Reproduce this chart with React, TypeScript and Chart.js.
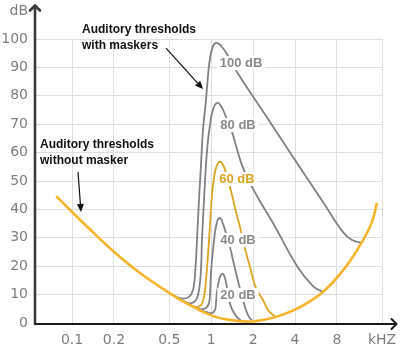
import React, { useEffect, useRef } from "react";
import { Chart, registerables } from "chart.js";

Chart.register(...registerables);

// ---- axes ----
const X_MIN = 0.0542;
const X_MAX = 16.87;
const X_TICKS = [0.1, 0.2, 0.5, 1, 2, 4, 8, X_MAX];
const X_TICK_LABELS = ["0.1", "0.2", "0.5", "1", "2", "4", "8", "kHZ"];
const Y_MIN = 0;
const Y_MAX = 100;
const Y_STEP = 10;

// ---- threshold in quiet ----
const QUIET_KHZ = [0.077, 0.1, 0.135, 0.197, 0.308, 0.514, 0.704, 1.013, 1.364, 1.838, 2.434, 3.12, 4.343, 6.354, 9.143, 12.11, 14.3, 15.5];
const QUIET_DB = [44.7, 39.1, 32.9, 25.4, 17.6, 10.2, 6.3, 2.6, 1.1, 0.5, 1.2, 2.6, 5.6, 10.9, 19.4, 28.5, 35.6, 42.3];

// ---- masked thresholds ----
const M100_KHZ = [0.514, 0.6165, 0.6925, 0.74, 0.7647, 0.7904, 0.817, 0.8444, 0.8729, 0.9173, 0.9482, 0.98, 1.03, 1.0823, 1.1374, 1.1952, 1.2983, 1.41, 1.532, 1.9, 2.644, 4.132, 6.354, 8.846, 10.26, 12.11];
const M100_DB = [10.2, 8.6, 9.2, 11.6, 16.9, 29.2, 43.3, 55.6, 68.0, 78.5, 87.0, 93.3, 97.5, 98.6, 98.2, 97.2, 94.7, 91.5, 88.4, 81.3, 70.8, 56.3, 42.6, 32.0, 29.2, 28.2];

const M80_KHZ = [0.6165, 0.704, 0.7775, 0.817, 0.8444, 0.8585, 0.8875, 0.9173, 0.9482, 0.98, 1.013, 1.0646, 1.1188, 1.1757, 1.2355, 1.32, 1.41, 1.692, 2.133, 2.78, 4.132, 5.385, 6.354];
const M80_DB = [7.95, 6.9, 8.1, 11.6, 18.7, 29.2, 43.3, 55.6, 64.4, 69.7, 73.9, 76.8, 77.5, 76.4, 74.3, 70.8, 67.3, 54.6, 44.7, 35.2, 20.1, 13.0, 10.9];

const M60_KHZ = [0.659, 0.7775, 0.8444, 0.8875, 0.9173, 0.9482, 0.98, 1.013, 1.047, 1.0823, 1.1374, 1.1952, 1.2558, 1.32, 1.41, 1.507, 1.61, 1.72, 1.9, 2.098, 2.355, 2.559, 2.78, 2.872];
const M60_DB = [7.1, 5.6, 6.3, 9.2, 15.1, 23.9, 34.5, 45.1, 51.1, 54.6, 56.7, 56.3, 53.9, 50.4, 45.1, 39.1, 33.8, 27.5, 19.7, 12.3, 8.1, 4.6, 2.8, 2.4];

const M40_KHZ = [0.7276, 0.8307, 0.9173, 0.964, 0.98, 0.9964, 1.03, 1.0646, 1.1003, 1.1374, 1.1757, 1.2152, 1.277, 1.364, 1.434, 1.532, 1.61, 1.692, 1.778, 1.869, 1.964];
const M40_DB = [6.0, 4.9, 5.3, 7.0, 9.9, 17.6, 25.7, 32.0, 35.6, 37.0, 36.6, 34.9, 31.7, 26.8, 22.2, 16.2, 12.0, 8.1, 4.6, 2.1, 1.0];

const M20_KHZ = [0.817, 0.9173, 1.013, 1.0646, 1.0823, 1.1003, 1.1374, 1.1757, 1.2152, 1.2558, 1.2983, 1.342, 1.41, 1.507, 1.61, 1.692];
const M20_DB = [4.4, 3.9, 3.5, 4.6, 7.0, 10.9, 15.1, 16.9, 17.3, 15.8, 12.3, 8.1, 4.9, 2.5, 1.1, 0.6];

// ---- curve labels ----
const CURVE_LABELS = ["100 dB", "80 dB", "60 dB", "40 dB", "20 dB"];
const CURVE_LABEL_KHZ = [1.637, 1.558, 1.532, 1.558, 1.558];
const CURVE_LABEL_DB = [91.5, 69.7, 50.7, 29.2, 9.9];

// ---- annotations ----
const NOTE_TEXT = [
  ["Auditory thresholds", "with maskers"],
  ["Auditory thresholds", "without masker"],
];
const NOTE_KHZ = [0.118, 0.0589];
const NOTE_DB = [103.2, 62.7];
const ARROW_FROM_KHZ = [0.4735, 0.1104];
const ARROW_FROM_DB = [96.8, 53.2];
const ARROW_TO_KHZ = [0.873, 0.116];
const ARROW_TO_DB = [82.4, 39.1];

const GREY = "#808087";
const GOLD = "#F4B52C";
const GOLD_DARK = "#DCA521";
const LABEL_COLORS = ["#8a8a8a", "#8a8a8a", "#D9A321", "#8a8a8a", "#8a8a8a"];

const pts = (xs: number[], ys: number[]) => xs.map((x, i) => ({ x, y: ys[i] }));

const overlay = {
  id: "overlay",
  afterDatasetsDraw(chart: any) {
    const { ctx, scales } = chart;
    const xs = scales.x;
    const ys = scales.y;
    ctx.save();
    ctx.font = 'bold 13px "Liberation Sans"';
    ctx.textAlign = "center";
    ctx.textBaseline = "middle";
    CURVE_LABELS.forEach((t, i) => {
      const px = xs.getPixelForValue(CURVE_LABEL_KHZ[i]);
      const py = ys.getPixelForValue(CURVE_LABEL_DB[i]);
      const w = ctx.measureText(t).width;
      ctx.fillStyle = "#ffffff";
      ctx.fillRect(px - w / 2 - 3, py - 7, w + 6, 14);
      ctx.fillStyle = LABEL_COLORS[i];
      ctx.fillText(t, px, py + 0.5);
    });
    ctx.font = 'bold 12px "Liberation Sans"';
    ctx.textAlign = "left";
    ctx.fillStyle = "#111111";
    NOTE_TEXT.forEach((lines, i) => {
      const px = xs.getPixelForValue(NOTE_KHZ[i]);
      const py = ys.getPixelForValue(NOTE_DB[i]);
      lines.forEach((l, j) => ctx.fillText(l, px, py + j * 15.5));
    });
    ctx.strokeStyle = "#111111";
    ctx.lineWidth = 1.2;
    ARROW_FROM_KHZ.forEach((_, i) => {
      const x1 = xs.getPixelForValue(ARROW_FROM_KHZ[i]);
      const y1 = ys.getPixelForValue(ARROW_FROM_DB[i]);
      const x2 = xs.getPixelForValue(ARROW_TO_KHZ[i]);
      const y2 = ys.getPixelForValue(ARROW_TO_DB[i]);
      const a = Math.atan2(y2 - y1, x2 - x1);
      const hl = 8;
      const bx = x2 - hl * Math.cos(a);
      const by = y2 - hl * Math.sin(a);
      ctx.beginPath();
      ctx.moveTo(x1, y1);
      ctx.lineTo(bx, by);
      ctx.stroke();
      ctx.beginPath();
      ctx.moveTo(x2, y2);
      ctx.lineTo(bx + 3.5 * Math.sin(a), by - 3.5 * Math.cos(a));
      ctx.lineTo(bx - 3.5 * Math.sin(a), by + 3.5 * Math.cos(a));
      ctx.closePath();
      ctx.fillStyle = "#111111";
      ctx.fill();
    });
    ctx.restore();
  },
  afterDraw(chart: any) {
    const { ctx, chartArea } = chart;
    const { left, bottom } = chartArea;
    ctx.save();
    ctx.lineCap = "round";
    ctx.lineJoin = "round";
    ctx.strokeStyle = "#3a3a3a";
    ctx.lineWidth = 2.6;
    ctx.beginPath();
    ctx.moveTo(left, bottom + 1);
    ctx.lineTo(left, 6);
    ctx.stroke();
    ctx.beginPath();
    ctx.moveTo(left - 5, 10.5);
    ctx.lineTo(left, 5.5);
    ctx.lineTo(left + 5, 10.5);
    ctx.stroke();
    ctx.strokeStyle = "#1a1a1a";
    ctx.lineWidth = 2;
    ctx.beginPath();
    ctx.moveTo(left, bottom + 1);
    ctx.lineTo(396, bottom + 1);
    ctx.stroke();
    ctx.beginPath();
    ctx.moveTo(391.5, bottom - 4);
    ctx.lineTo(396.5, bottom + 1);
    ctx.lineTo(391.5, bottom + 6);
    ctx.stroke();
    ctx.font = '14px "DejaVu Sans"';
    ctx.fillStyle = "#7d7d7d";
    ctx.textAlign = "right";
    ctx.textBaseline = "middle";
    ctx.fillText("dB", left - 7, 11);
    ctx.restore();
  },
};

export default function App() {
  const ref = useRef<HTMLCanvasElement | null>(null);
  useEffect(() => {
    if (!ref.current) return;
    const line = (data: any, color: string, width: number) => ({
      data,
      borderColor: color,
      backgroundColor: color,
      borderWidth: width,
      pointRadius: 0,
      showLine: true,
      fill: false,
      tension: 0.4,
    });
    const chart = new Chart(ref.current, {
      type: "scatter",
      data: {
        datasets: [
          line(pts(QUIET_KHZ, QUIET_DB), GOLD, 2.6),
          line(pts(M60_KHZ, M60_DB), GOLD_DARK, 1.8),
          line(pts(M100_KHZ, M100_DB), GREY, 1.8),
          line(pts(M80_KHZ, M80_DB), GREY, 1.8),
          line(pts(M40_KHZ, M40_DB), GREY, 1.8),
          line(pts(M20_KHZ, M20_DB), GREY, 1.8),
        ],
      },
      options: {
        animation: false,
        responsive: false,
        devicePixelRatio: 1,
        layout: { padding: { top: 39, right: 18, left: 0, bottom: 0 } },
        plugins: { legend: { display: false }, tooltip: { enabled: false } },
        scales: {
          x: {
            type: "logarithmic",
            min: X_MIN,
            max: X_MAX,
            afterBuildTicks: (s: any) => {
              s.ticks = X_TICKS.map((v) => ({ value: v }));
            },
            afterFit: (s: any) => {
              s.height = 29;
              s.paddingLeft = 0;
              s.paddingRight = 0;
            },
            grid: { color: "#dedede", lineWidth: 1, drawTicks: false },
            border: { display: false },
            ticks: {
              autoSkip: false,
              maxRotation: 0,
              padding: 9,
              color: "#7d7d7d",
              font: { family: "DejaVu Sans", size: 14 },
              callback: (_v: any, i: number) => X_TICK_LABELS[i],
            },
          },
          y: {
            type: "linear",
            min: Y_MIN,
            max: Y_MAX,
            afterFit: (s: any) => {
              s.width = 35;
              s.paddingTop = 0;
              s.paddingBottom = 0;
            },
            grid: { color: "#dedede", lineWidth: 1, drawTicks: false },
            border: { display: false },
            ticks: {
              stepSize: Y_STEP,
              padding: 7,
              color: "#7d7d7d",
              font: { family: "DejaVu Sans", size: 14 },
            },
          },
        },
      },
      plugins: [overlay],
    });
    return () => chart.destroy();
  }, []);
  return (
    <div style={{ position: "fixed", left: 0, top: 0, width: 400, height: 352, background: "#fff" }}>
      <canvas ref={ref} width={400} height={352} style={{ display: "block" }} />
    </div>
  );
}
